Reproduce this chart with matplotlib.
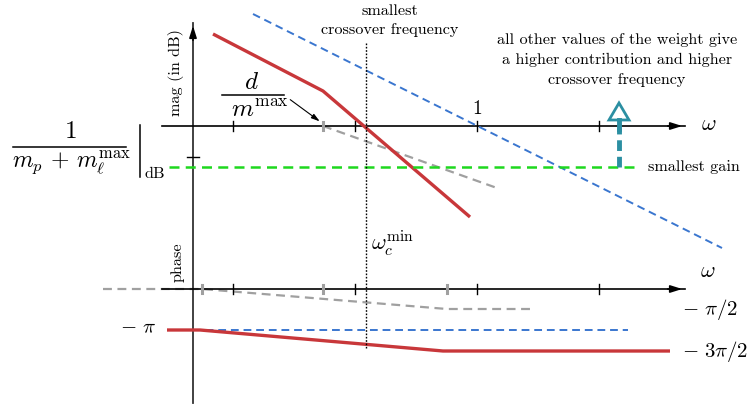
import matplotlib
matplotlib.use("Agg")
import matplotlib.pyplot as plt
from matplotlib.patches import Polygon

plt.rcParams['mathtext.fontset'] = 'cm'
SERIF = 'cmr10'

# diagram units: one unit = one pixel of the 753x408 picture, y downwards
W, H = 753, 408

# axes of the sketch
vaxis_x = 193
vaxis_y = [403, 23]
mag_axis_y = 126
phase_axis_y = 289
haxis_x = [162, 685]
tick_x = [233, 355, 477, 599]
gray_tick_mag = [323]
gray_tick_phase = [202, 323, 447]
vtick_y = [157]

# magnitude curves
blue_mag_x = [253, 722]
blue_mag_y = [14, 248]
red_mag_x = [213, 323, 470]
red_mag_y = [34, 91, 217]
gray_mag_x = [323, 497]
gray_mag_y = [126, 188]
green_x = [169, 640]
green_y = [167, 167]

# phase curves
gray_ph_x = [103, 202, 447, 532]
gray_ph_y = [289, 289, 309, 309]
blue_ph_x = [193, 628]
blue_ph_y = [330, 330]
red_ph_x = [167, 200, 443, 670]
red_ph_y = [330, 330, 351, 351]

# crossover marker
wc_x = 366
wc_y = [43, 348]

# "higher gain" arrow
up_x = 619
up_y = [167, 120]
head_tip = 103

# text blocks
top_lines = ['smallest', 'crossover frequency']
top_y = [11, 30]
note_lines = ['all other values of the weight give',
              'a higher contribution and higher',
              'crossover frequency']
note_y = [40, 60, 80]

RED = '#c8373a'
BLUE = '#3a76cf'
GREEN = '#1ed81e'
GRAY = '#a0a0a0'
TEAL = '#2b8fa2'
FS = 11.7

fig = plt.figure(figsize=(W / 100, H / 100), dpi=100)
ax = fig.add_axes([0, 0, 1, 1])
ax.set_xlim(0, W)
ax.set_ylim(H, 0)
ax.axis('off')

# curves behind the axes
ax.plot(gray_ph_x, gray_ph_y, color=GRAY, lw=1.6, ls=(0, (4, 2.5)))
ax.plot(gray_mag_x, gray_mag_y, color=GRAY, lw=1.6, ls=(0, (4, 2.5)))

# axes
arrow_style = '-|>,head_length=0.7,head_width=0.22'
ax.plot([vaxis_x, vaxis_x], vaxis_y, color='#333333', lw=1.3)
ax.annotate('', xy=(vaxis_x, vaxis_y[1]), xytext=(vaxis_x, vaxis_y[1] + 20),
            arrowprops=dict(arrowstyle=arrow_style, color='black', lw=1.2))
for yy in [mag_axis_y, phase_axis_y]:
    ax.plot(haxis_x, [yy, yy], color='black', lw=1.2)
    ax.annotate('', xy=(haxis_x[1], yy), xytext=(haxis_x[1] - 20, yy),
                arrowprops=dict(arrowstyle=arrow_style, color='black', lw=1.2))
    for tx in tick_x:
        ax.plot([tx, tx], [yy - 5, yy + 5], color='black', lw=1.0)
for tx in gray_tick_mag:
    ax.plot([tx, tx], [mag_axis_y - 4, mag_axis_y + 4], color=GRAY, lw=2.2)
for tx in gray_tick_phase:
    ax.plot([tx, tx], [phase_axis_y - 4, phase_axis_y + 4], color=GRAY, lw=2.2)
for ty in vtick_y:
    ax.plot([vaxis_x - 6, vaxis_x + 6], [ty, ty], color='black', lw=1.0)

# magnitude
ax.plot(blue_mag_x, blue_mag_y, color=BLUE, lw=1.4, ls=(0, (4, 2.5)))
ax.plot(red_mag_x, red_mag_y, color=RED, lw=2.4, solid_capstyle='butt')
ax.plot(green_x, green_y, color=GREEN, lw=1.8, ls=(0, (4, 2.5)))

# phase
ax.plot(blue_ph_x, blue_ph_y, color=BLUE, lw=1.4, ls=(0, (4, 2.5)))
ax.plot(red_ph_x, red_ph_y, color=RED, lw=2.4, solid_capstyle='butt')

# crossover line
ax.plot([wc_x, wc_x], wc_y, color='black', lw=1.0, ls=(0, (1.2, 1.2)))

# teal arrow
ax.plot([up_x, up_x], [up_y[0], up_y[1] + 8], color=TEAL, lw=3.5, ls=(0, (2.2, 1.2)))
ax.plot([up_x, up_x], [up_y[1] + 9, up_y[1]], color=TEAL, lw=3.5)
ax.add_patch(Polygon([[up_x - 10, up_y[1]], [up_x + 10, up_y[1]], [up_x, head_tip]],
                     closed=True, facecolor='white', edgecolor=TEAL, lw=2.0))

# annotation arrow d/m^max
ax.annotate('', xy=(322, 123), xytext=(288, 98),
            arrowprops=dict(arrowstyle='-|>,head_length=0.5,head_width=0.15',
                            color='black', lw=0.8))

# texts
for s, yy in zip(top_lines, top_y):
    ax.text(390, yy, s, ha='center', va='center', fontsize=FS, family=SERIF)
for s, yy in zip(note_lines, note_y):
    ax.text(617, yy, s, ha='center', va='center', fontsize=FS, family=SERIF)
ax.text(648, 167, 'smallest gain', ha='left', va='center', fontsize=FS, family=SERIF)
ax.text(176, 72, 'mag (in dB)', ha='center', va='center', rotation=90, fontsize=FS, family=SERIF)
ax.text(178, 262, 'phase', ha='center', va='center', rotation=90, fontsize=FS, family=SERIF)
ax.text(709, 124, r'$\omega$', ha='center', va='center', fontsize=16)
ax.text(708, 271, r'$\omega$', ha='center', va='center', fontsize=16)
ax.text(477, 109, r'$1$', ha='center', va='center', fontsize=14)
ax.text(371, 243, r'$\omega_c^{\mathrm{min}}$', ha='left', va='center', fontsize=16)
ax.text(156, 327, r'$-\ \pi$', ha='right', va='center', fontsize=15)
ax.text(682, 310, r'$-\ \pi/2$', ha='left', va='center', fontsize=15)
ax.text(682, 352, r'$-\ 3\pi/2$', ha='left', va='center', fontsize=15)

# d / m^max
ax.text(252, 82, r'$d$', ha='center', va='center', fontsize=18)
ax.plot([222, 284], [95, 95], color='black', lw=1.1)
ax.text(260, 110, r'$m^{\mathrm{max}}$', ha='center', va='center', fontsize=18)

# 1 / (m_p + m_l^max) |_dB
ax.text(70, 131, r'$1$', ha='center', va='center', fontsize=18)
ax.plot([13, 126], [147, 147], color='black', lw=1.1)
ax.text(71, 162, r'$m_p\,+\,m_\ell^{\mathrm{max}}$', ha='center', va='center', fontsize=17)
ax.plot([140, 140], [125, 177], color='black', lw=1.1)
ax.text(145, 174, 'dB', ha='left', va='center', fontsize=FS, family=SERIF)

fig.savefig('out.png', dpi=100)
